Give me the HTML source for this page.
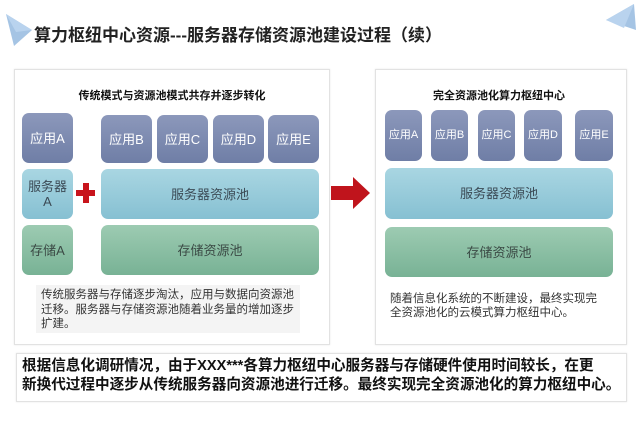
<!DOCTYPE html><html><head><meta charset="utf-8"><style>
body{margin:0;width:640px;height:443px;background:#fff;position:relative;overflow:hidden;font-family:"Liberation Sans","Noto Sans CJK SC",sans-serif;}
.a{position:absolute;box-sizing:border-box;}
.p{border:1px solid #e2e2e2;box-shadow:0 0 2px #e8e8e8;background:#fff}
.b{display:flex;align-items:center;justify-content:center;text-align:center;border-radius:7px;color:#fff;font-size:13px;line-height:15px}
.ap{background:linear-gradient(#8c98bb,#6f7ea6);}
.sv{background:linear-gradient(#a9d6e2,#86c0d2);color:#3b4a55;}
.st{background:linear-gradient(#9dcbb2,#78b295);color:#3b4a45;}
.t{font-weight:bold;font-size:11px;color:#111;text-align:center}
.s{font-size:11.5px;color:#333;line-height:14px;white-space:nowrap}
</style></head><body>
<svg class="a" style="left:4px;top:12px" width="30" height="36"><polygon points="2,2 28,18 10,34" fill="#8fb5dd" opacity=".8"/><polygon points="2,2 28,18 12,20" fill="#b9d3ee"/></svg>
<svg class="a" style="left:604px;top:2px" width="34" height="30"><polygon points="30,2 32,28 2,18" fill="#8fb5dd" opacity=".8"/><polygon points="30,2 20,26 2,18" fill="#b9d3ee"/></svg>
<div class="a" style="left:34px;top:21px;font-size:17px;font-weight:bold;color:#222">算力枢纽中心资源---服务器存储资源池建设过程（续）</div>

<div class="a p" style="left:14px;top:69px;width:316px;height:276px"></div>
<div class="a t" style="left:14px;top:87px;width:316px">传统模式与资源池模式共存并逐步转化</div>
<div class="a b ap" style="left:22px;top:113px;width:51px;height:50px">应用A</div>
<div class="a b ap" style="left:101px;top:115px;width:51px;height:48px">应用B</div>
<div class="a b ap" style="left:157px;top:115px;width:51px;height:48px">应用C</div>
<div class="a b ap" style="left:213px;top:115px;width:51px;height:48px">应用D</div>
<div class="a b ap" style="left:268px;top:115px;width:51px;height:48px">应用E</div>
<div class="a b sv" style="left:22px;top:169px;width:51px;height:50px">服务器<br>A</div>
<div class="a b sv" style="left:101px;top:169px;width:218px;height:50px">服务器资源池</div>
<div class="a b st" style="left:22px;top:225px;width:51px;height:50px">存储A</div>
<div class="a b st" style="left:101px;top:225px;width:218px;height:50px">存储资源池</div>
<div class="a" style="left:76px;top:190px;width:19px;height:6px;background:#c8141c"></div>
<div class="a" style="left:83px;top:183px;width:6px;height:20px;background:#c8141c"></div>
<div class="a s" style="left:36px;top:285px;width:264px;height:48px;background:#f4f4f4;padding:3px 5px;line-height:14.5px">传统服务器与存储逐步淘汰，应用与数据向资源池<br>迁移。服务器与存储资源池随着业务量的增加逐步<br>扩建。</div>

<svg class="a" style="left:331px;top:177px" width="40" height="32"><polygon points="0,9 22,9 22,0 39,16 22,32 22,23 0,23" fill="#c0141c"/></svg>

<div class="a p" style="left:375px;top:69px;width:252px;height:276px"></div>
<div class="a t" style="left:385px;top:87px;width:228px">完全资源池化算力枢纽中心</div>
<div class="a b ap" style="left:385px;top:110px;width:37px;height:51px;font-size:11px">应用A</div>
<div class="a b ap" style="left:431px;top:110px;width:37px;height:51px;font-size:11px">应用B</div>
<div class="a b ap" style="left:478px;top:110px;width:37px;height:51px;font-size:11px">应用C</div>
<div class="a b ap" style="left:524px;top:110px;width:38px;height:51px;font-size:11px">应用D</div>
<div class="a b ap" style="left:575px;top:110px;width:38px;height:51px;font-size:11px">应用E</div>
<div class="a b sv" style="left:385px;top:168px;width:228px;height:51px">服务器资源池</div>
<div class="a b st" style="left:385px;top:227px;width:228px;height:50px">存储资源池</div>
<div class="a s" style="left:390px;top:292px;width:220px">随着信息化系统的不断建设，最终实现完<br>全资源池化的云模式算力枢纽中心。</div>

<div class="a p" style="left:16px;top:353px;width:611px;height:49px"></div>
<div class="a" style="left:22px;top:357px;width:605px;font-size:14.6px;font-weight:bold;line-height:19px;color:#111;white-space:nowrap">根据信息化调研情况，由于XXX***各算力枢纽中心服务器与存储硬件使用时间较长，在更<br>新换代过程中逐步从传统服务器向资源池进行迁移。最终实现完全资源池化的算力枢纽中心。</div>
</body></html>
